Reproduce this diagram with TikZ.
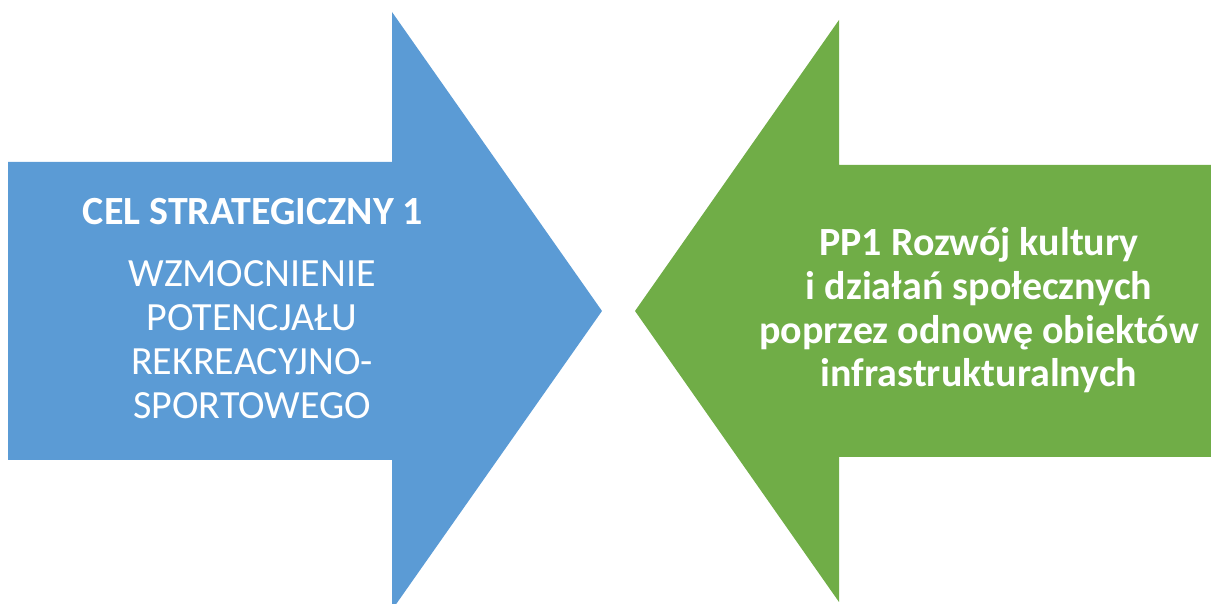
\documentclass[tikz,border=0pt]{standalone}
\usepackage{fontspec}
\setmainfont{Carlito}
\definecolor{arrblue}{HTML}{5B9BD5}
\definecolor{arrgreen}{HTML}{70AD47}
\begin{document}
\begin{tikzpicture}[x=1pt,y=1pt,
  lbl/.style={text=white,inner sep=0pt,align=center,font=\fontsize{40}{44}\selectfont,anchor=base}]
\useasboundingbox (0,0) rectangle (1211,604);
\clip (0,0) rectangle (1211,604);
\fill[arrblue] (8,442) -- (392,442) -- (392,592) -- (602,293) -- (392,-6) -- (392,144) -- (8,144) -- cycle;
\fill[arrgreen] (1215,439) -- (839,439) -- (839,584) -- (635,293) -- (839,2) -- (839,147) -- (1215,147) -- cycle;
\node[lbl,font=\fontsize{40}{44}\selectfont\bfseries] (title) at (253,379) {CEL STRATEGICZNY 1};
\node[lbl] (goal) at (252,185) {WZMOCNIENIE\\POTENCJAŁU\\REKREACYJNO-\\SPORTOWEGO};
\node[lbl,font=\fontsize{40}{43.7}\selectfont\bfseries] (pp1) at (979,217) {PP1 Rozwój kultury\\i działań społecznych\\poprzez odnowę obiektów\\infrastrukturalnych};
\end{tikzpicture}
\end{document}
